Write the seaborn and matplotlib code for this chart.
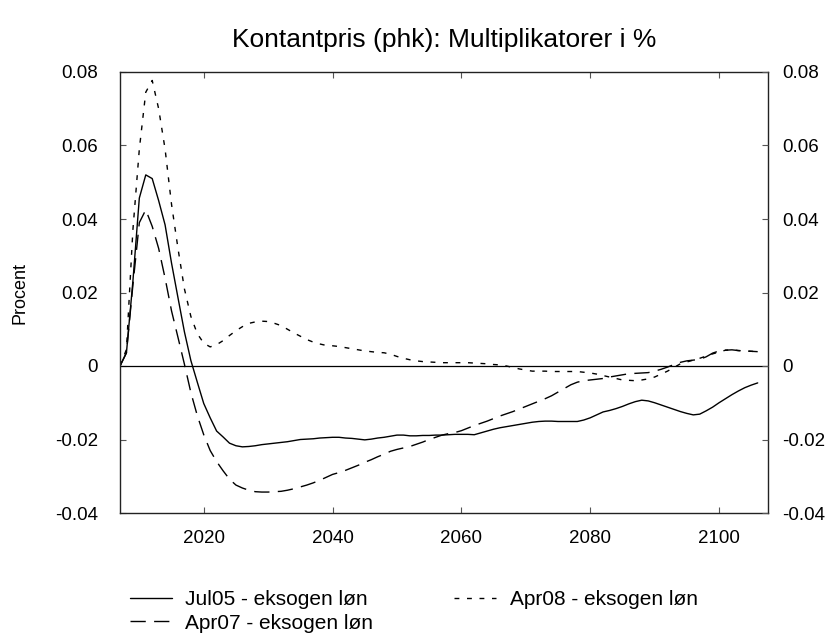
import numpy as np
import pandas as pd
import matplotlib
matplotlib.use("Agg")
import matplotlib.pyplot as plt
import seaborn as sns

# ---------------- data ----------------
years = list(range(2007, 2107))

jul05 = [
    0.0000, 0.0036, 0.0230, 0.0457, 0.0520, 0.0510, 0.0450, 0.0384, 0.0280, 0.0186,  # 2007-2016
    0.0093, 0.0015, -0.0044, -0.0102, -0.0141, -0.0177, -0.0193, -0.0210, -0.0217, -0.0220,  # 2017-2026
    -0.0219, -0.0217, -0.0214, -0.0212, -0.0210, -0.0208, -0.0206, -0.0203, -0.0200, -0.0199,  # 2027-2036
    -0.0198, -0.0196, -0.0195, -0.0194, -0.0194, -0.0196, -0.0197, -0.0199, -0.0201, -0.0199,  # 2037-2046
    -0.0196, -0.0194, -0.0191, -0.0188, -0.0188, -0.0190, -0.0190, -0.0189, -0.0189, -0.0188,  # 2047-2056
    -0.0188, -0.0187, -0.0186, -0.0186, -0.0186, -0.0187, -0.0182, -0.0177, -0.0172, -0.0168,  # 2057-2066
    -0.0165, -0.0162, -0.0159, -0.0156, -0.0153, -0.0151, -0.0150, -0.0150, -0.0151, -0.0151,  # 2067-2076
    -0.0151, -0.0151, -0.0147, -0.0141, -0.0133, -0.0125, -0.0121, -0.0116, -0.0110, -0.0103,  # 2077-2086
    -0.0097, -0.0093, -0.0095, -0.0100, -0.0106, -0.0112, -0.0118, -0.0124, -0.0129, -0.0133,  # 2087-2096
    -0.0131, -0.0122, -0.0112, -0.0100, -0.0089, -0.0078, -0.0068, -0.0059, -0.0052, -0.0046,  # 2097-2106
]

apr07 = [
    0.0000, 0.0036, 0.0220, 0.0390, 0.0425, 0.0380, 0.0320, 0.0239, 0.0150, 0.0078,  # 2007-2016
    0.0005, -0.0072, -0.0135, -0.0187, -0.0230, -0.0260, -0.0285, -0.0308, -0.0324, -0.0332,  # 2017-2026
    -0.0338, -0.0342, -0.0343, -0.0343, -0.0342, -0.0341, -0.0338, -0.0334, -0.0329, -0.0324,  # 2027-2036
    -0.0318, -0.0311, -0.0303, -0.0295, -0.0290, -0.0284, -0.0277, -0.0270, -0.0262, -0.0255,  # 2037-2046
    -0.0247, -0.0240, -0.0232, -0.0227, -0.0223, -0.0219, -0.0213, -0.0207, -0.0200, -0.0194,  # 2047-2056
    -0.0188, -0.0184, -0.0181, -0.0176, -0.0169, -0.0162, -0.0156, -0.0150, -0.0143, -0.0136,  # 2057-2066
    -0.0130, -0.0124, -0.0117, -0.0110, -0.0103, -0.0096, -0.0089, -0.0081, -0.0071, -0.0061,  # 2067-2076
    -0.0051, -0.0044, -0.0040, -0.0038, -0.0036, -0.0034, -0.0030, -0.0027, -0.0024, -0.0021,  # 2077-2086
    -0.0020, -0.0019, -0.0018, -0.0014, -0.0009, -0.0003, 0.0004, 0.0010, 0.0014, 0.0016,  # 2087-2096
    0.0018, 0.0025, 0.0035, 0.0041, 0.0043, 0.0044, 0.0042, 0.0041, 0.0040, 0.0039,  # 2097-2106
]

apr08 = [
    0.0000, 0.0045, 0.0370, 0.0590, 0.0745, 0.0777, 0.0700, 0.0590, 0.0440, 0.0320,  # 2007-2016
    0.0210, 0.0135, 0.0088, 0.0062, 0.0052, 0.0058, 0.0069, 0.0083, 0.0096, 0.0107,  # 2017-2026
    0.0116, 0.0120, 0.0122, 0.0121, 0.0116, 0.0110, 0.0100, 0.0090, 0.0081, 0.0072,  # 2027-2036
    0.0065, 0.0060, 0.0056, 0.0055, 0.0053, 0.0050, 0.0047, 0.0044, 0.0041, 0.0039,  # 2037-2046
    0.0037, 0.0036, 0.0032, 0.0026, 0.0021, 0.0017, 0.0014, 0.0012, 0.0011, 0.0010,  # 2047-2056
    0.0009, 0.0009, 0.0009, 0.0009, 0.0009, 0.0008, 0.0007, 0.0006, 0.0004, 0.0003,  # 2057-2066
    0.0000, -0.0004, -0.0008, -0.0011, -0.0014, -0.0014, -0.0014, -0.0015, -0.0015, -0.0015,  # 2067-2076
    -0.0015, -0.0015, -0.0017, -0.0019, -0.0022, -0.0026, -0.0030, -0.0034, -0.0038, -0.0039,  # 2077-2086
    -0.0040, -0.0038, -0.0035, -0.0030, -0.0022, -0.0014, -0.0004, 0.0006, 0.0011, 0.0016,  # 2087-2096
    0.0021, 0.0027, 0.0033, 0.0038, 0.0043, 0.0044, 0.0042, 0.0041, 0.0040, 0.0039,  # 2097-2106
]

series_names = ["Jul05 - eksogen løn", "Apr07 - eksogen løn", "Apr08 - eksogen løn"]

x_ticks = [2020, 2040, 2060, 2080, 2100]
y_ticks = [-0.04, -0.02, 0.0, 0.02, 0.04, 0.06, 0.08]
y_tick_labels = ["-0.04", "-0.02", "0", "0.02", "0.04", "0.06", "0.08"]

title = "Kontantpris (phk): Multiplikatorer i %"
ylabel = "Procent"

# ---------------- style ----------------
sns.set_style("white")
plt.rcParams["font.family"] = ["Liberation Sans", "DejaVu Sans"]
plt.rcParams["axes.edgecolor"] = "#222222"
plt.rcParams["axes.linewidth"] = 1.0
plt.rcParams["text.color"] = "black"
plt.rcParams["axes.labelcolor"] = "black"
plt.rcParams["xtick.labelcolor"] = "black"
plt.rcParams["ytick.labelcolor"] = "black"

fig = plt.figure(figsize=(8.27, 6.35), dpi=100)
ax = fig.add_axes([120 / 827, 1 - 513 / 635, (768 - 120) / 827, (513 - 72) / 635])

ax.axhline(0, color="black", lw=0.9, zorder=1)

df = pd.DataFrame({"year": years, series_names[0]: jul05,
                   series_names[1]: apr07, series_names[2]: apr08})

styles = {
    series_names[0]: "-",
    series_names[1]: (0, (11, 6)),
    series_names[2]: (0, (3.5, 5.5)),
}
handles = []
for name in series_names:
    n_before = len(ax.lines)
    sns.lineplot(data=df, x="year", y=name, ax=ax, color="black",
                 linewidth=1.0, linestyle=styles[name], legend=False)
    line = ax.lines[n_before]
    line.set_label(name)
    handles.append(line)

ax.set_xlim(2007, 2107.6)
ax.set_ylim(-0.04, 0.08)
ax.set_xticks(x_ticks)
ax.set_xticklabels([str(t) for t in x_ticks])
ax.set_yticks(y_ticks)
ax.set_yticklabels(y_tick_labels)
ax.set_xlabel("")
ax.set_ylabel(ylabel, fontsize=13, labelpad=19)

ax.tick_params(axis="both", direction="in", length=4, width=0.8, color="#555555",
               labelsize=13.5, labelcolor="black", top=True)
ax.tick_params(axis="y", pad=16, left=True)
ax.tick_params(axis="x", pad=12, bottom=True)
for s in ax.spines.values():
    s.set_visible(True)
    s.set_color("#222222")

ax2 = ax.twinx()
ax2.set_ylim(ax.get_ylim())
ax2.set_yticks(y_ticks)
ax2.set_yticklabels(y_tick_labels)
ax2.tick_params(axis="y", direction="in", length=4, width=0.8, color="#555555",
                labelsize=13.5, labelcolor="black", pad=10, right=True)
for s in ax2.spines.values():
    s.set_visible(False)

fig.suptitle(title, x=444 / 827, y=1 - 40 / 635, va="center", fontsize=19,
             color="black")

leg = fig.legend(handles=handles, labels=series_names, ncol=2,
                 loc="upper left", bbox_to_anchor=(130 / 827, 1 - 590 / 635),
                 frameon=False, fontsize=15, handlelength=2.0, handletextpad=0.65,
                 columnspacing=3.9, labelspacing=0.22, borderpad=0, borderaxespad=0)
for t in leg.get_texts():
    t.set_color("black")

fig.savefig("out.png", dpi=100)
